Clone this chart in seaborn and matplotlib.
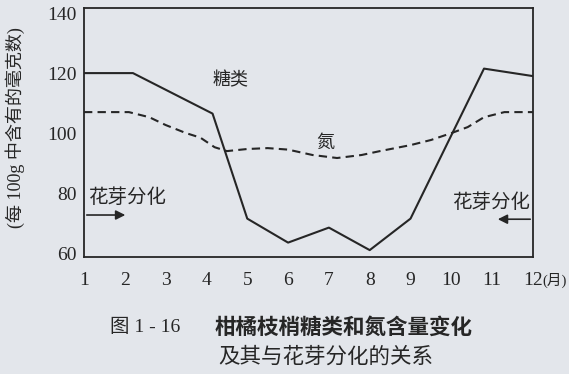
import numpy as np
import pandas as pd
import matplotlib
matplotlib.use("Agg")
import matplotlib.pyplot as plt
import seaborn as sns

# values (month, mg per 100 g)
sugar_months = [1, 2.2, 4.15, 5.0, 6.0, 7.0, 8.0, 9.0, 10.8, 12]
sugar_values = [120, 120, 106.5, 71.5, 63.5, 68.5, 61, 71.5, 121.5, 119]

nitrogen_months = [1, 2.1, 2.6, 3.0, 3.5, 3.85, 4.2, 4.5, 5.0, 5.5, 6.0, 6.6,
                   7.2, 7.8, 8.25, 9.0, 9.5, 10.0, 10.4, 10.8, 11.3, 12]
nitrogen_values = [107, 107, 105.3, 102.7, 100, 98.5, 95.3, 94, 94.7, 95, 94.5, 92.7,
                   91.7, 92.7, 94, 96, 97.7, 100, 102, 105.3, 107, 107]

month_ticks = list(range(1, 13))
y_ticks = [60, 80, 100, 120, 140]

bg = "#e3e6eb"
ink = "#262626"

sns.set_style("white")
plt.rcParams['font.family'] = ['Liberation Serif', 'Noto Sans CJK SC', 'DejaVu Sans']
cjk = ['Noto Sans CJK SC', 'DejaVu Sans']

sugar_df = pd.DataFrame({'month': sugar_months, 'value': sugar_values})
nitro_df = pd.DataFrame({'month': nitrogen_months, 'value': nitrogen_values})

fig = plt.figure(figsize=(5.69, 3.74), dpi=100, facecolor=bg)
ax = fig.add_axes([0.1476, 0.3128, 0.7891, 0.6658])
ax.set_facecolor(bg)

sns.lineplot(data=sugar_df, x='month', y='value', ax=ax, color=ink, lw=1.5,
             sort=False, estimator=None)
sns.lineplot(data=nitro_df, x='month', y='value', ax=ax, color=ink, lw=1.5,
             sort=False, estimator=None, dashes=False)
ax.lines[1].set_dashes([4, 2.5])

ax.set_xlim(1, 12)
ax.set_ylim(58.7, 141.7)
ax.set_xticks(month_ticks)
ax.set_yticks(y_ticks)
ax.set_xticklabels([str(m) for m in month_ticks], fontsize=14, color=ink)
ax.set_yticklabels([str(v) for v in y_ticks], fontsize=14, color=ink)
ax.tick_params(axis='x', direction='out', length=5, width=1.2, color=ink, pad=6)
ax.tick_params(axis='y', length=0, pad=5)
ax.set_xlabel('')
ax.set_ylabel('')
for s in ax.spines.values():
    s.set_visible(True)
    s.set_color(ink)
    s.set_linewidth(1.3)

# series labels
ax.text(4.58, 117.7, '糖类', family=cjk, fontsize=13, color=ink, ha='center', va='center')
ax.text(6.9, 96.8, '氮', family=cjk, fontsize=13, color=ink, ha='center', va='center')

# flower bud differentiation arrows
ax.text(1.1, 78.7, '花芽分化', family=cjk, fontsize=14, color=ink, ha='left', va='center')
ax.annotate('', xy=(2.08, 72.7), xytext=(1.0, 72.7),
            arrowprops=dict(arrowstyle='-|>', color=ink, lw=1.2, mutation_scale=14))
ax.text(11.93, 77, '花芽分化', family=cjk, fontsize=14, color=ink, ha='right', va='center')
ax.annotate('', xy=(11.07, 71.3), xytext=(12.0, 71.3),
            arrowprops=dict(arrowstyle='-|>', color=ink, lw=1.2, mutation_scale=14))

# month unit next to the last tick
ax.text(12.23, 58.7 - (23 / 3.0), '(月)', fontsize=10.5, color=ink, ha='left', va='center',
        clip_on=False)

fig.text(0.026, 0.658, '(每 100g 中含有的毫克数)', rotation=90, fontsize=13, color=ink,
         ha='center', va='center')

fig.text(110 / 569, 1 - 327 / 374, '图 1 - 16', fontsize=14, color=ink, ha='left', va='center')
fig.text(215 / 569, 1 - 327 / 374, '柑橘枝梢糖类和氮含量变化', family=cjk, fontsize=15.5,
         fontweight='bold', color=ink, ha='left', va='center')
fig.text(218 / 569, 1 - 357 / 374, '及其与花芽分化的关系', family=cjk, fontsize=15.5,
         color=ink, ha='left', va='center')

fig.savefig('out.png', dpi=100, facecolor=bg)
